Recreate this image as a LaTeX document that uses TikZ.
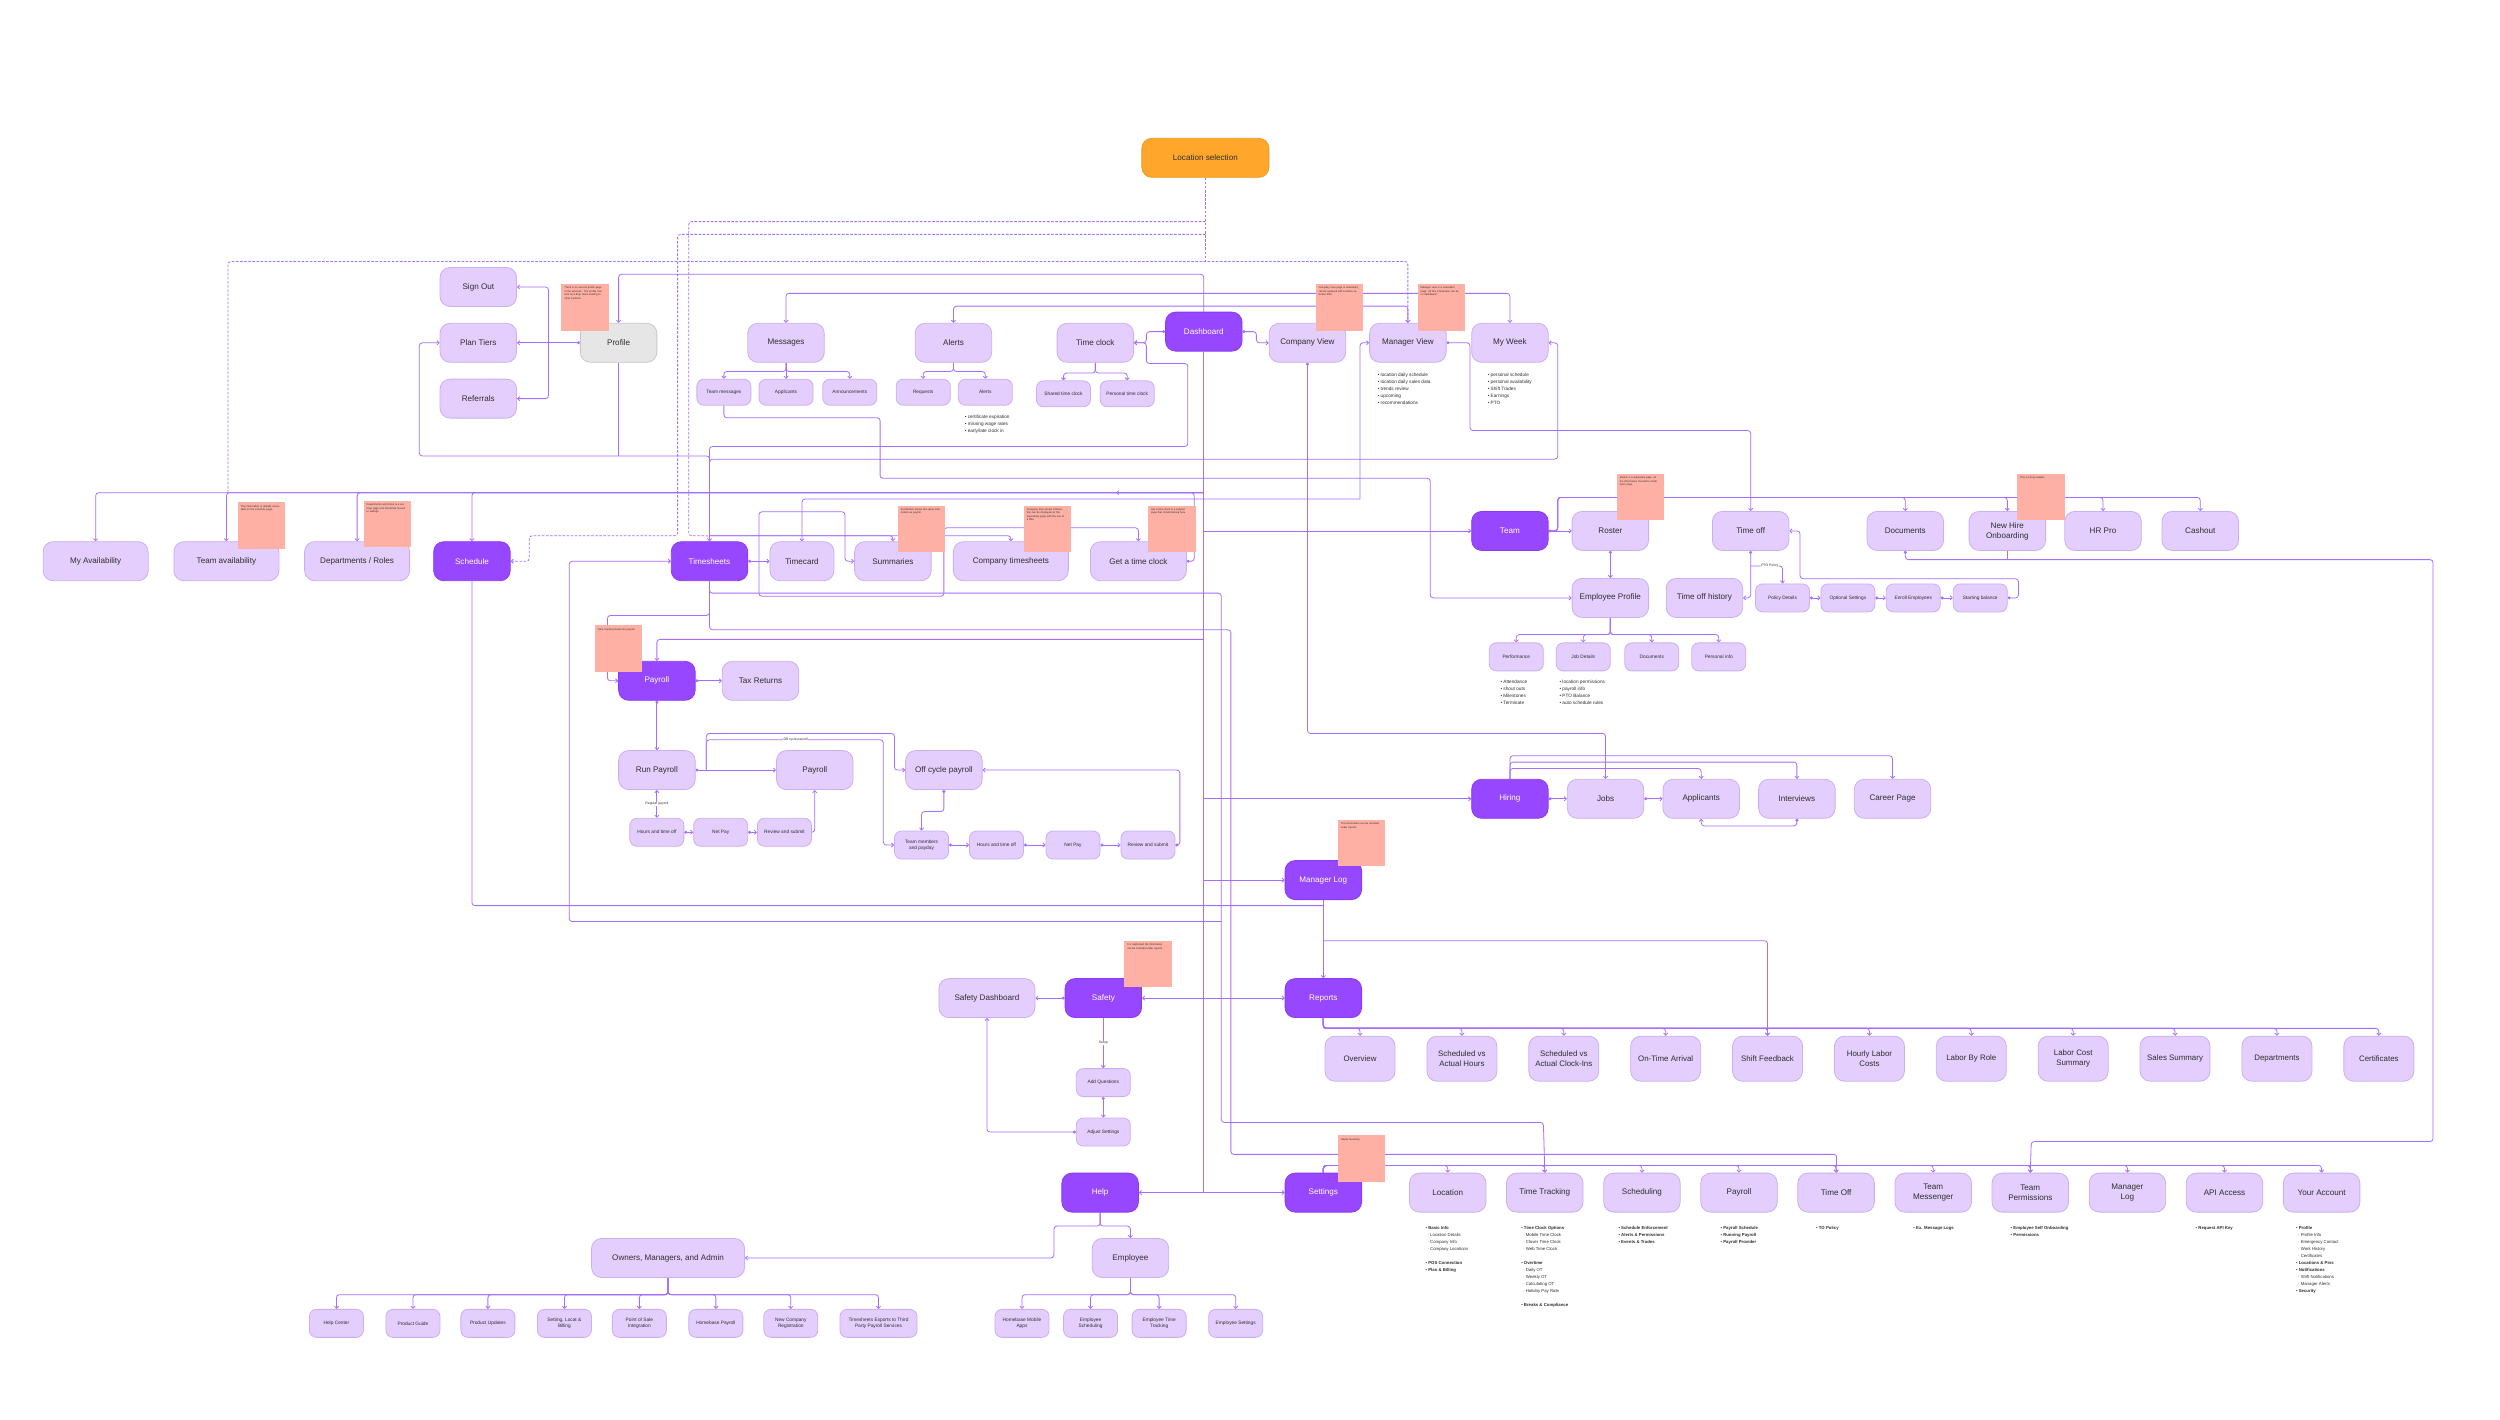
\documentclass[tikz,border=0pt]{standalone}
\usepackage{fontspec}
\setmainfont{Liberation Sans}
\usetikzlibrary{arrows.meta}
\definecolor{lp}{HTML}{E3CEFD}
\definecolor{lpb}{HTML}{C9B0F0}
\definecolor{dp}{HTML}{9747FF}
\definecolor{dpb}{HTML}{8A3BF2}
\definecolor{lc}{HTML}{A56EFF}
\definecolor{orng}{HTML}{FFA62B}
\definecolor{orngb}{HTML}{EE9A22}
\definecolor{gry}{HTML}{E6E6E6}
\definecolor{gryb}{HTML}{C8C8C8}
\definecolor{stk}{HTML}{FFB0A4}
\definecolor{txt}{HTML}{2E2E2E}
\pgfdeclarelayer{back}
\pgfdeclarelayer{lines}
\pgfsetlayers{back,lines,main}
\begin{document}
\begin{tikzpicture}[x=1.5944pt,y=-1.5944pt,
 box/.style={rectangle, rounded corners=10pt, draw=lpb, line width=0.8pt, fill=lp, text=txt, minimum width=76.5pt, minimum height=39pt, align=center, inner sep=2pt, font=\fontsize{8.1}{10}\selectfont},
 dark/.style={box, fill=dp, draw=dpb, text=white},
 sm/.style={box, rounded corners=7pt, minimum width=54pt, minimum height=28pt, font=\fontsize{4.8}{6.4}\selectfont},
 smt/.style={sm, minimum height=26pt},
 rep/.style={box, minimum width=70pt, minimum height=45pt, font=\fontsize{7.9}{10.2}\selectfont},
 conn/.style={draw=lc, line width=0.8pt, rounded corners=3pt, arrows={-Straight Barb[length=2.2pt,width=4.2pt]}},
 cdot/.style={conn, arrows={Circle[length=3pt]-Straight Barb[length=2.2pt,width=4.2pt]}},
 ln/.style={draw=lc, line width=0.8pt, rounded corners=3pt},
 dsh/.style={ln, dash pattern=on 2.5pt off 1.6pt},
 lbl/.style={fill=white, inner sep=0.6pt, font=\fontsize{3.4}{4}\selectfont, text=txt},
 bul/.style={align=left, anchor=north west, inner sep=0pt, text=txt, font=\fontsize{4.7}{7}\selectfont},
 sbul/.style={align=left, anchor=north west, inner sep=0pt, text=txt, font=\fontsize{4.3}{7}\selectfont},
 stkb/.style={rectangle, fill=stk, minimum width=47.5pt, minimum height=46.5pt, anchor=north west, inner sep=0pt},
 stt/.style={anchor=north west, text width=40pt, align=left, font=\fontsize{2.6}{3.4}\selectfont, text=txt, inner sep=3pt}
]
\begin{pgfonlayer}{back}
\fill[white] (0,0) rectangle (1568,890);
\end{pgfonlayer}
\useasboundingbox (0,0) rectangle (1568,890);

% ---------------- top ----------------
\node[box, fill=orng, draw=orngb, minimum width=127pt] (ls) at (756,99) {Location selection};
\node[box] (signout) at (300,180) {Sign Out};
\node[box] (plantiers) at (300,215) {Plan Tiers};
\node[box] (referrals) at (300,250) {Referrals};
\node[box, fill=gry, draw=gryb] (profile) at (388,215) {Profile};
\node[box] (msg) at (493,215) {Messages};
\node[smt] (tmsg) at (454,246) {Team messages};
\node[smt] (appl) at (493,246) {Applicants};
\node[smt] (ann) at (533,246) {Announcements};
\node[box] (alerts) at (598,215) {Alerts};
\node[smt] (req) at (579,246) {Requests};
\node[smt] (alsm) at (618,246) {Alerts};
\node[box] (tclock) at (687,215) {Time clock};
\node[smt] (shtc) at (667,247) {Shared time clock};
\node[smt] (pstc) at (707,247) {Personal time clock};
\node[dark] (dash) at (755,208) {Dashboard};
\node[box] (compv) at (820,215) {Company View};
\node[box] (mgrv) at (883,215) {Manager View};
\node[box] (myweek) at (947,215) {My Week};

\node[bul] (b1) at (605,260.5) {\textbullet\ certificate expiration\\\textbullet\ missing wage rates\\\textbullet\ early/late clock in};
\node[bul] (b2) at (864,234) {\textbullet\ location daily schedule\\\textbullet\ location daily sales data\\\textbullet\ trends review\\\textbullet\ upcoming\\\textbullet\ recommendations};
\node[bul] (b3) at (933,234) {\textbullet\ personal schedule\\\textbullet\ personal availability\\\textbullet\ Shift Trades\\\textbullet\ Earnings\\\textbullet\ PTO};

% ---------------- row 2 ----------------
\node[box, minimum width=105pt] (myavail) at (60,352) {My Availability};
\node[box, minimum width=105pt] (teamavail) at (142,352) {Team availability};
\node[box, minimum width=105pt] (deptroles) at (224,352) {Departments / Roles};
\node[dark] (sched) at (296,352) {Schedule};
\node[dark] (ts) at (445,352) {Timesheets};
\node[box, minimum width=64pt] (tcard) at (503,352) {Timecard};
\node[box] (summ) at (560,352) {Summaries};
\node[box, minimum width=115pt] (compts) at (634,352) {Company timesheets};
\node[box, minimum width=96pt] (gettc) at (714,352) {Get a time clock};

% ---------------- team ----------------
\node[dark] (team) at (947,333) {Team};
\node[box] (roster) at (1010,333) {Roster};
\node[box] (timeoff) at (1098,333) {Time off};
\node[box] (docs) at (1195,333) {Documents};
\node[box] (nhire) at (1259,333) {New Hire\\Onboarding};
\node[box] (hrpro) at (1319,333) {HR Pro};
\node[box] (cashout) at (1380,333) {Cashout};
\node[box] (empprof) at (1010,375) {Employee Profile};
\node[box] (tohist) at (1069,375) {Time off history};
\node[sm] (poldet) at (1118,375) {Policy Details};
\node[sm] (optset) at (1159,375) {Optional Settings};
\node[sm] (enroll) at (1200,375) {Enroll Employees};
\node[sm] (startbal) at (1242,375) {Starting balance};
\node[sm] (perf) at (951,412) {Performance};
\node[sm] (jobdet) at (993,412) {Job Details};
\node[sm] (edocs) at (1036,412) {Documents};
\node[sm] (pinfo) at (1078,412) {Personal info};
\node[bul] (b4) at (941,426.5) {\textbullet\ Attendance\\\textbullet\ shout outs\\\textbullet\ Milestones\\\textbullet\ Terminate};
\node[bul] (b5) at (978,426.5) {\textbullet\ location permissions\\\textbullet\ payroll info\\\textbullet\ PTO Balance\\\textbullet\ auto schedule rules};

% ---------------- payroll ----------------
\node[dark] (payroll) at (412,427) {Payroll};
\node[box] (taxret) at (477,427) {Tax Returns};
\node[box] (runpay) at (412,483) {Run Payroll};
\node[box] (payl) at (511,483) {Payroll};
\node[box] (offcyc) at (592,483) {Off cycle payroll};
\node[sm] (hto1) at (412,522) {Hours and time off};
\node[sm] (netpay1) at (452,522) {Net Pay};
\node[sm] (rev1) at (492,522) {Review and submit};
\node[sm] (tmem) at (578,530) {Team members\\and payday};
\node[sm] (hto2) at (625,530) {Hours and time off};
\node[sm] (netpay2) at (673,530) {Net Pay};
\node[sm] (rev2) at (720,530) {Review and submit};

% ---------------- hiring ----------------
\node[dark] (hiring) at (947,501) {Hiring};
\node[box] (jobs) at (1007,501) {Jobs};
\node[box] (applic) at (1067,501) {Applicants};
\node[box] (interv) at (1127,501) {Interviews};
\node[box] (career) at (1187,501) {Career Page};
\node[dark] (mlog) at (830,552) {Manager Log};

% ---------------- safety / reports ----------------
\node[box, minimum width=96pt] (safedash) at (619,626) {Safety Dashboard};
\node[dark] (safety) at (692,626) {Safety};
\node[dark] (reports) at (830,626) {Reports};
\node[sm] (addq) at (692,679) {Add Questions};
\node[sm] (adjset) at (692,710) {Adjust Settings};
\foreach \nm/\tx [count=\i from 0] in {overview/Overview, svah/{Scheduled vs\\Actual Hours}, svac/{Scheduled vs\\Actual Clock-Ins}, ontime/On-Time Arrival, shiftfb/Shift Feedback, hlc/{Hourly Labor\\Costs}, lbr/Labor By Role, lcs/{Labor Cost\\Summary}, salsum/Sales Summary, rdepts/Departments, certs/Certificates}
  \node[rep] (\nm) at ({853+63.9*\i},664) {\tx};

% ---------------- settings / help ----------------
\node[dark] (help) at (690,748) {Help};
\node[dark] (settings) at (830,748) {Settings};
\foreach \nm/\tx [count=\i from 0] in {loc/Location, ttrack/Time Tracking, schedS/Scheduling, payS/Payroll, toS/Time Off, tmsgr/{Team\\Messenger}, tperm/{Team\\Permissions}, mlogS/{Manager\\Log}, api/API Access, acct/Your Account}
  \node[box] (\nm) at ({908+60.9*\i},748) {\tx};

\node[sbul] (sb1) at (894,769) {\textbullet\ \textbf{Basic Info}\\\hspace{2pt}· Location Details\\\hspace{2pt}· Company Info\\\hspace{2pt}· Company Locations\\[7pt]\textbullet\ \textbf{POS Connection}\\\textbullet\ \textbf{Plan \& Billing}};
\node[sbul] (sb2) at (954,769) {\textbullet\ \textbf{Time Clock Options}\\\hspace{2pt}· Mobile Time Clock\\\hspace{2pt}· Clover Time Clock\\\hspace{2pt}· Web Time Clock\\[7pt]\textbullet\ \textbf{Overtime}\\\hspace{2pt}· Daily OT\\\hspace{2pt}· Weekly OT\\\hspace{2pt}· Calculating OT\\\hspace{2pt}· Holiday Pay Rate\\[7pt]\textbullet\ \textbf{Breaks \& Compliance}};
\node[sbul] (sb3) at (1015,769) {\textbullet\ \textbf{Schedule Enforcement}\\\textbullet\ \textbf{Alerts \& Permissions}\\\textbullet\ \textbf{Events \& Trades}};
\node[sbul] (sb4) at (1079,769) {\textbullet\ \textbf{Payroll Schedule}\\\textbullet\ \textbf{Running Payroll}\\\textbullet\ \textbf{Payroll Provider}};
\node[sbul] (sb5) at (1139,769) {\textbullet\ \textbf{TO Policy}};
\node[sbul] (sb6) at (1200,769) {\textbullet\ \textbf{Ex. Message Logs}};
\node[sbul] (sb7) at (1261,769) {\textbullet\ \textbf{Employee Self Onboarding}\\\textbullet\ \textbf{Permissions}};
\node[sbul] (sb8) at (1377,769) {\textbullet\ \textbf{Request API Key}};
\node[sbul] (sb9) at (1440,769) {\textbullet\ \textbf{Profile}\\\hspace{2pt}· Profile Info\\\hspace{2pt}· Emergency Contact\\\hspace{2pt}· Work History\\\hspace{2pt}· Certificates\\\textbullet\ \textbf{Locations \& Pins}\\\textbullet\ \textbf{Notifications}\\\hspace{2pt}· Shift Notifications\\\hspace{2pt}· Manager Alerts\\\textbullet\ \textbf{Security}};

\node[box, minimum width=153pt] (owners) at (419,789) {Owners, Managers, and Admin};
\node[box] (employee) at (709,789) {Employee};
\foreach \nm/\tx/\xx in {hc/Help Center/211, pg/Product Guide/259, pu/Product Updates/306, slb/{Setting, Locat \&\\Billing}/354, pos/{Point of Sale\\Integration}/401, hbp/Homebase Payroll/449, ncr/{New Company\\Registration}/496}
  \node[sm] (\nm) at (\xx,830) {\tx};
\node[sm, minimum width=77pt] (tsexp) at (551,830) {Timesheets Exports to Third\\Party Payroll Services};
\foreach \nm/\tx/\xx in {hma/{Homebase Mobile\\Apps}/641, esch/{Employee\\Scheduling}/684, ett/{Employee Time\\Tracking}/727, eset/Employee Settings/775}
  \node[sm] (\nm) at (\xx,830) {\tx};

% ---------------- connectors ----------------
\begin{pgfonlayer}{lines}
% dashed from location selection
\draw[dsh] (ls.south) -- (756,164);
\draw[dsh, arrows={-Straight Barb[length=2.2pt,width=4.2pt]}] (756,139) -| (432,336) -| (ts.north);
\draw[dsh, arrows={-Straight Barb[length=2.2pt,width=4.2pt]}] (756,147) -| (425,336) -| (332,352) -- (sched.east);
\draw[dsh, arrows={-Straight Barb[length=2.2pt,width=4.2pt]}] (143,309) |- (883,164) -- (mgrv.north);

% dashboard top
\draw[conn] (dash.north) -- (755,172) -| (profile.north);
\draw[conn] (755,184) -| (msg.north);
\draw[conn] (755,184) -| (myweek.north);
\draw[conn] (755,192) -| (alerts.north);
\draw[conn] (755,192) -| (mgrv.north);
\draw[cdot] (dash.west) -- (719,208) |- (tclock.east);
\draw[cdot] (dash.east) -- (788,208) |- (compv.west);

% profile
\draw[cdot] (profile.west) -- (plantiers.east);
\draw[conn] (344,215) |- (signout.east);
\draw[conn] (344,215) |- (referrals.east);

% timesheets upward links
\draw[conn] (ts.north) |- (263,286) |- (plantiers.west);
\draw[ln] (profile.south) -- (388,286);
\draw[conn] (ts.north) |- (745,280) |- (719,228) |- (tclock.east);
\draw[conn] (ts.north) |- (977,288) |- (myweek.east);

% children
\coordinate (mb) at (0,233);
\foreach \c in {tmsg,appl,ann} \draw[conn] (msg.south) |- (\c.north |- mb) -- (\c.north);
\foreach \c in {req,alsm} \draw[conn] (alerts.south) |- (\c.north |- mb) -- (\c.north);
\coordinate (tb) at (0,234);
\foreach \c in {shtc,pstc} \draw[conn] (tclock.south) |- (\c.north |- tb) -- (\c.north);

% manager view / company view
\draw[cdot] (mgrv.east) -- (922,215) |- (1098,270) -- (timeoff.north);
\draw[cdot] (compv.south) |- (1007,460) -- (jobs.north);
\draw[conn] (tmsg.south) |- (552,262) |- (897,300) |- (empprof.west);
\draw[conn] (853,313) |- (mgrv.west);
\draw[conn] (853,313) -| (tcard.north);

% dashboard trunk
\draw[ln] (dash.south) -- (755,748);
\draw[conn] (755,748) -- (settings.west);
\draw[conn] (755,748) -- (help.east);
\foreach \c in {myavail,teamavail,deptroles,sched} \draw[conn] (755,309) -| (\c.north);
\draw[cdot] (gettc.east) -- (749,352) |- (700,309);
\draw[conn] (755,333) -- (team.west);
\draw[conn] (755,401) -| (payroll.north);
\draw[conn] (755,501) -- (hiring.west);
\draw[conn] (755,552) -- (mlog.west);
\draw[conn] (755,626) -- (reports.west);
\draw[conn] (755,626) -- (safety.east);

% timesheets
\draw[cdot] (ts.east) -- (tcard.west);
\draw[conn] (476,352) |- (530,321) |- (summ.west);
\draw[conn] (445,336) -| (summ.north);
\draw[conn] (445,336) -| (compts.north);
\draw[conn] (476,352) |- (592,374) |- (714,331) -- (gettc.north);
\draw[conn] (ts.south) |- (766,372) |- (968,704) -- (ttrack.north);
\draw[conn] (ts.south) |- (772,395) |- (1152,724) -- (toS.north);
\draw[conn] (766,578) -| (357,352) -- (ts.west);
\draw[conn] (ts.south) |- (381,386) |- (payroll.west);

% team
\draw[cdot] (team.east) -- (roster.west);
\foreach \c in {docs,nhire,hrpro,cashout} \draw[conn] (team.east) -- (977,333) |- (\c.north |- 0,312) -- (\c.north);
\draw[cdot] (roster.south) -- (empprof.north);
\coordinate (eb) at (0,398);
\foreach \c in {perf,jobdet,edocs,pinfo} \draw[conn] (empprof.south) |- (\c.north |- eb) -- (\c.north);
\draw[cdot] (timeoff.south) |- (tohist.east);
\draw[conn] (1098,355) -| node[lbl, pos=0.3] {PTO Policy} (poldet.north);
\draw[cdot] (poldet.east) -- (optset.west);
\draw[cdot] (optset.east) -- (enroll.west);
\draw[cdot] (enroll.east) -- (startbal.west);
\draw[cdot] (startbal.east) -- (1266,375) |- (1129,363) |- (timeoff.east);
\draw[cdot] (docs.south) |- (1526,351) |- (1274,716) -- (tperm.north);
\draw[ln] (nhire.south) -- (1259,351);

% hiring
\draw[cdot] (hiring.east) -- (jobs.west);
\draw[cdot] (jobs.east) -- (applic.west);
\draw[conn] (hiring.north) |- (1067,482) -- (applic.north);
\draw[conn] (hiring.north) |- (1127,478) -- (interv.north);
\draw[conn] (hiring.north) |- (1187,474) -- (career.north);
\draw[cdot] (interv.south) |- (1067,518) -- (applic.south);

% payroll
\draw[cdot] (payroll.east) -- (taxret.west);
\draw[cdot] (payroll.south) -- (runpay.north);
\draw[cdot] (runpay.east) -- (payl.west);
\draw[conn] (443,483) |- (561,460) |- (offcyc.west);
\draw[conn] (443,483) |- (554,464) |- (tmem.west);
\node[lbl] (lblofc) at (499,464) {Off cycle payroll};
\draw[conn, arrows={Straight Barb[length=2.2pt,width=4.2pt]-Straight Barb[length=2.2pt,width=4.2pt]}] (runpay.south) -- node[lbl] {Regular payroll} (hto1.north);
\draw[cdot] (hto1.east) -- (netpay1.west);
\draw[cdot] (netpay1.east) -- (rev1.west);
\draw[cdot] (rev1.east) -| (payl.south);
\draw[cdot] (offcyc.south) |- (578,509) -- (tmem.north);
\draw[cdot] (tmem.east) -- (hto2.west);
\draw[cdot] (hto2.east) -- (netpay2.west);
\draw[cdot] (netpay2.east) -- (rev2.west);
\draw[cdot] (rev2.east) -- (740,530) |- (offcyc.east);

% schedule / manager log / reports
\draw[ln] (sched.south) |- (830,568);
\draw[conn] (mlog.south) -- (reports.north);
\draw[conn] (830,590) -| (shiftfb.north);
\coordinate (rb) at (0,645);
\foreach \c in {overview,svah,svac,ontime,shiftfb,hlc,lbr,lcs,salsum,rdepts,certs} \draw[conn] (reports.south) |- (\c.north |- rb) -- (\c.north);

% safety
\draw[cdot] (safety.west) -- (safedash.east);
\draw[conn] (safety.south) -- node[lbl] {Setup} (addq.north);
\draw[cdot] (addq.south) -- (adjset.north);
\draw[cdot] (adjset.west) -| (safedash.south);

% settings
\coordinate (sbus) at (0,731);
\foreach \c in {loc,ttrack,schedS,payS,toS,tmsgr,tperm,mlogS,api,acct} \draw[conn] (settings.north) |- (\c.north |- sbus) -- (\c.north);

% help
\draw[conn] (help.south) |- (661,769) |- (owners.east);
\draw[conn] (help.south) |- (709,769) -- (employee.north);
\coordinate (hb) at (0,812);
\foreach \c in {hc,pg,pu,slb,pos,hbp,ncr,tsexp} \draw[conn] (owners.south) |- (\c.north |- hb) -- (\c.north);
\foreach \c in {hma,esch,ett,eset} \draw[conn] (employee.south) |- (\c.north |- hb) -- (\c.north);
\end{pgfonlayer}

% ---------------- sticky notes ----------------
\node[stkb] (st1) at (352,178) {};
\node[stt] (st1t) at (st1.north west) {There is no second profile page in the structure. The profile icon acts as a drop down leading to other sections.};
\node[stkb] (st2) at (825,178) {};
\node[stt] (st2t) at (st2.north west) {Company view page is redundant, can be replaced with location selection filter.};
\node[stkb] (st3) at (889,178) {};
\node[stt] (st3t) at (st3.north west) {Manager view is a redundant page. All this information can be on dashboard.};
\node[stkb] (st4) at (149,315) {};
\node[stt] (st4t) at (st4.north west) {This information is already accessible on the schedule page.};
\node[stkb] (st5) at (228,314) {};
\node[stt] (st5t) at (st5.north west) {Departments and Roles is a settings page and should be moved to settings.};
\node[stkb] (st6) at (563,317) {};
\node[stt] (st6t) at (st6.north west) {Summaries shows the same information as payroll.};
\node[stkb] (st7) at (642,317) {};
\node[stt] (st7t) at (st7.north west) {Company time sheets information can be displayed on the timesheets page with the use of a filter.};
\node[stkb] (st8) at (720,317) {};
\node[stt] (st8t) at (st8.north west) {Get a time clock is a support page that should belong here.};
\node[stkb] (st9) at (1014,297) {};
\node[stt] (st9t) at (st9.north west) {Roster is a redundant page, all the information should be under team page.};
\node[stkb] (st10) at (1265,297) {};
\node[stt] (st10t) at (st10.north west) {This is hiring related.};
\node[stkb] (st11) at (373,392) {};
\node[stt] (st11t) at (st11.north west) {Time tracking feeds into payroll.};
\node[stkb] (st12) at (839,514) {};
\node[stt] (st12t) at (st12.north west) {This information can be included under reports.};
\node[stkb] (st13) at (705,590) {};
\node[stt] (st13t) at (st13.north west) {It is duplicated the information can be included under reports.};
\node[stkb] (st14) at (839,712) {};
\node[stt] (st14t) at (st14.north west) {Needs hierarchy.};
\end{tikzpicture}
\end{document}
